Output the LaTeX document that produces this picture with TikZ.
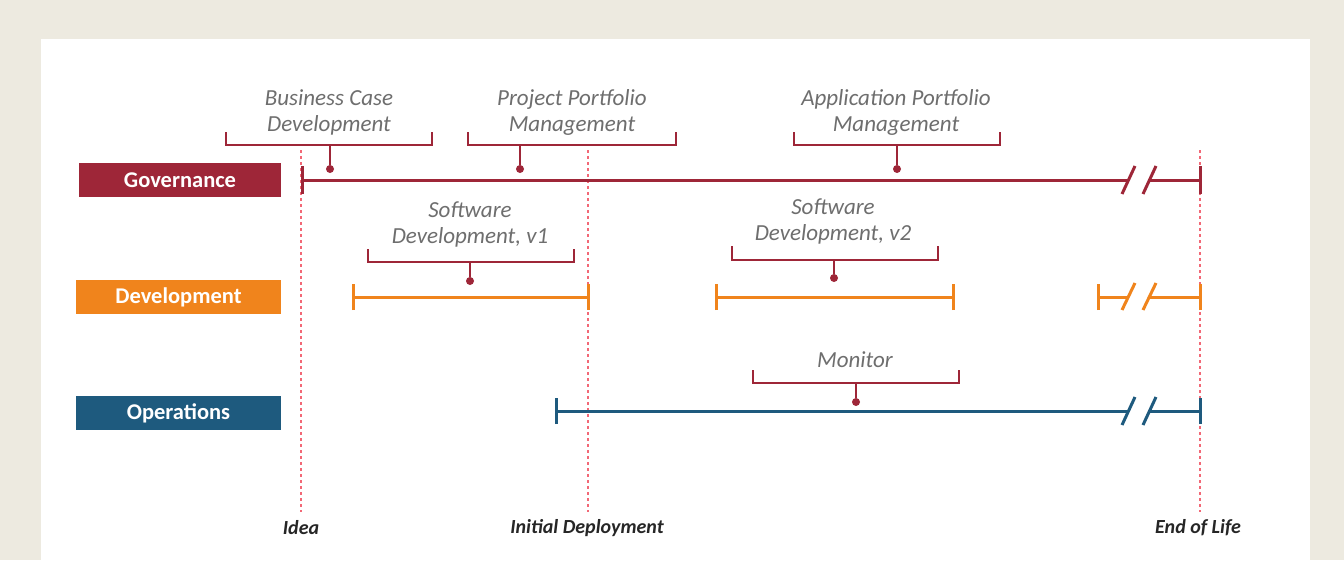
\documentclass[tikz,border=0pt]{standalone}
\usepackage{fontspec}
\setmainfont{Carlito}
\definecolor{beige}{HTML}{EDEAE0}
\definecolor{govred}{HTML}{9E2638}
\definecolor{devorange}{HTML}{F0841C}
\definecolor{opsblue}{HTML}{1E5A7E}
\definecolor{guidered}{HTML}{F26876}
\definecolor{labelgray}{HTML}{6E6E6E}
\definecolor{msgray}{HTML}{262626}
\begin{document}
\begin{tikzpicture}[x=1pt,y=-1pt,
  lane/.style={fill=#1, text=white, font=\fontsize{22.5}{24}\selectfont\bfseries, minimum height=34pt, inner sep=0pt},
  phase/.style={text=labelgray, font=\fontsize{23}{26}\selectfont\itshape, align=center, inner sep=0pt},
  milestone/.style={text=msgray, font=\fontsize{20}{22}\selectfont\bfseries\itshape, inner sep=0pt},
  bar/.style={draw=#1, line width=3pt},
  bracket/.style={draw=govred, line width=2.2pt},
  dotc/.style={circle, fill=govred, inner sep=0pt, minimum size=8pt},
  guide/.style={draw=guidered, line width=1.5pt, dash pattern=on 3pt off 3pt}
]
\useasboundingbox (0,0) rectangle (1344,560);
\fill[beige] (0,0) rectangle (1344,560);
\fill[white] (41,39) rectangle (1310,560);

% guides
\coordinate (idtop) at (301,150); \coordinate (idbot) at (301,512);
\coordinate (iptop) at (588,150); \coordinate (ipbot) at (588,512);
\coordinate (eltop) at (1200,150); \coordinate (elbot) at (1200,512);
\draw[guide] (idtop) -- (idbot);
\draw[guide] (iptop) -- (ipbot);
\draw[guide] (eltop) -- (elbot);

% lane boxes
\node[lane=govred, minimum width=202pt] (gov) at (180,180) {Governance};
\node[lane=devorange, minimum width=205pt] (dev) at (178.5,297) {Development};
\node[lane=opsblue, minimum width=205pt] (ops) at (178.5,413) {Operations};

% governance bar
\coordinate (g0) at (302,180); \coordinate (g1) at (1129,180);
\coordinate (g2) at (1150,180); \coordinate (g3) at (1200,180);
\draw[bar=govred] (g0) -- (g1) (g2) -- (g3);
\draw[bar=govred] ([yshift=-14pt]g0) -- ([yshift=14pt]g0) ([yshift=-14pt]g3) -- ([yshift=14pt]g3);
\draw[bar=govred] (1122,194) -- (1135,166) (1143,194) -- (1156,166);

% development bars
\coordinate (d0) at (353,297); \coordinate (d1) at (588,297);
\coordinate (d2) at (716,297); \coordinate (d3) at (953,297);
\coordinate (d4) at (1098,297); \coordinate (d5) at (1129,297);
\coordinate (d6) at (1150,297); \coordinate (d7) at (1200,297);
\draw[bar=devorange] (d0) -- (d1) (d2) -- (d3) (d4) -- (d5) (d6) -- (d7);
\foreach \p in {d0,d1,d2,d3,d4,d7}
  \draw[bar=devorange] ([yshift=-13pt]\p) -- ([yshift=13pt]\p);
\draw[bar=devorange] (1122,310) -- (1135,283) (1143,310) -- (1156,283);

% operations bar
\coordinate (o0) at (556,411); \coordinate (o1) at (1129,411);
\coordinate (o2) at (1150,411); \coordinate (o3) at (1200,411);
\draw[bar=opsblue] (o0) -- (o1) (o2) -- (o3);
\draw[bar=opsblue] ([yshift=-13pt]o0) -- ([yshift=13pt]o0) ([yshift=-13pt]o3) -- ([yshift=13pt]o3);
\draw[bar=opsblue] (1122,425) -- (1135,397) (1143,425) -- (1156,397);

% phase labels
\node[phase] (bcd) at (329,112) {Business Case\\Development};
\node[phase] (ppm) at (572,112) {Project Portfolio\\Management};
\node[phase] (apm) at (896,112) {Application Portfolio\\Management};
\node[phase] (sd1) at (470,224) {Software\\Development, v1};
\node[phase] (sd2) at (833,221.5) {Software\\Development, v2};
\node[phase] (mon) at (855,360) {Monitor};

% brackets
\node[dotc] (bcdd) at (330,169) {};
\draw[bracket] (226,132) |- (330,145) -| (432,132);
\draw[bracket] (330,145) -- (bcdd);
\node[dotc] (ppmd) at (520,169) {};
\draw[bracket] (468,132) |- (520,145) -| (676,132);
\draw[bracket] (520,145) -- (ppmd);
\node[dotc] (apmd) at (897,169) {};
\draw[bracket] (794,132) |- (897,145) -| (1000,132);
\draw[bracket] (897,145) -- (apmd);
\node[dotc] (sd1d) at (470,281) {};
\draw[bracket] (368,249) |- (470,262) -| (574,249);
\draw[bracket] (470,262) -- (sd1d);
\node[dotc] (sd2d) at (834,278) {};
\draw[bracket] (732,246) |- (834,260) -| (938,246);
\draw[bracket] (834,260) -- (sd2d);
\node[dotc] (mond) at (856,402) {};
\draw[bracket] (753,370) |- (856,383) -| (959,370);
\draw[bracket] (856,383) -- (mond);

% milestones
\node[milestone] (idea) at (301,528) {Idea};
\node[milestone] (initdep) at (587,528) {Initial Deployment};
\node[milestone] (eol) at (1198,528) {End of Life};
\end{tikzpicture}
\end{document}
